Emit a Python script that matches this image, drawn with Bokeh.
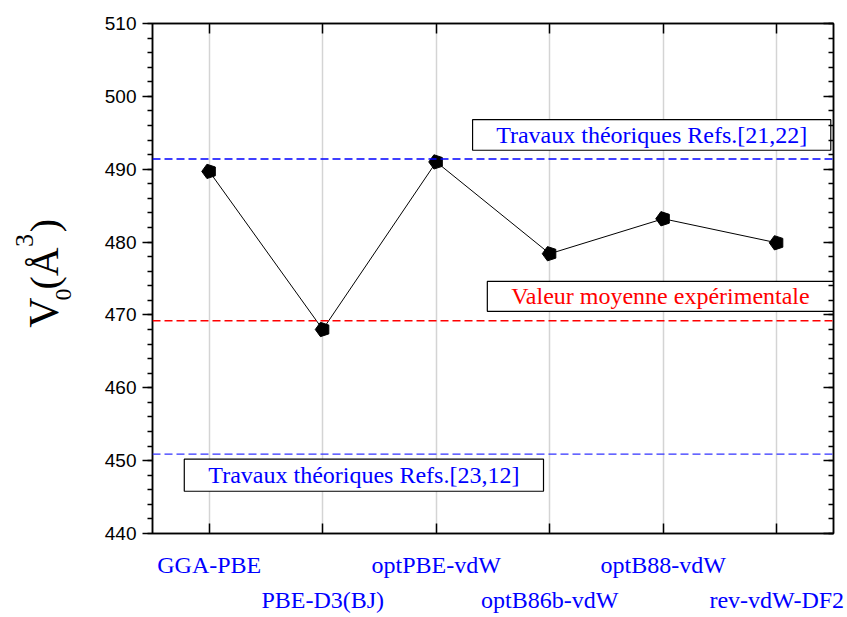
import math
from bokeh.plotting import figure
from bokeh.layouts import row
from bokeh.models import (Range1d, FixedTicker, SingleIntervalTicker, LinearAxis,
                          Span, ColumnDataSource, CustomJSTickFormatter)
from bokeh.core.properties import value
from bokeh.embed import file_html
from bokeh.resources import INLINE

# Equilibrium volume V0 (Å^3) obtained with each functional
methods = ["GGA-PBE", "PBE-D3(BJ)", "optPBE-vdW", "optB86b-vdW", "optB88-vdW", "rev-vdW-DF2"]
v0 = [489.7, 468.0, 491.0, 478.4, 483.2, 479.9]

# Reference levels drawn as dashed horizontal lines
theo_high = 491.4   # Refs.[21,22]
exp_mean = 469.2    # experimental mean
theo_low = 450.9    # Refs.[23,12]

y_min, y_max = 440, 510
y_step = 10
y_minor = 5

idx = list(range(len(methods)))
even = [i for i in idx if i % 2 == 0]
odd = [i for i in idx if i % 2 == 1]
SERIF = "Liberation Serif"
SANS = "Liberation Sans"

W, H = 847, 617
TW = 80                             # strip on the left holding the y title
BL, BR, BT, BB = 72, 14, 23, 84     # borders around the plotting frame

p = figure(width=W - TW, height=H, output_backend="svg", toolbar_location=None,
           x_range=Range1d(-0.5, len(methods) - 0.5), y_range=Range1d(y_min, y_max),
           min_border_left=BL, min_border_right=BR, min_border_top=BT,
           min_border_bottom=BB)
p.outline_line_color = "black"
p.outline_line_width = 1.5
p.background_fill_color = "white"
p.border_fill_color = "white"

# vertical grid at each functional, no horizontal grid
p.xgrid.ticker = FixedTicker(ticks=idx)
p.xgrid.grid_line_color = "#d4d4d4"
p.xgrid.grid_line_width = 1.5
p.ygrid.grid_line_color = None

# left axis: outward ticks with numbers
ya = p.yaxis[0]
ya.ticker = SingleIntervalTicker(interval=y_step, num_minor_ticks=y_minor)
ya.major_tick_out = 10
ya.major_tick_in = 0
ya.minor_tick_out = 5
ya.minor_tick_in = 0
ya.axis_line_width = 1.5
ya.major_tick_line_width = 1.5
ya.minor_tick_line_width = 1.5
ya.major_label_text_font = SANS
ya.major_label_text_font_size = "19px"
ya.major_label_text_color = "black"
ya.major_label_standoff = 6

# bottom axis: even functionals on the first row; odd ones get the same
# inward tick drawn as a long minor tick
xa = p.xaxis[0]
xa.ticker = FixedTicker(ticks=even, minor_ticks=odd)
xa.major_label_overrides = {i: methods[i] for i in even}
xa.major_tick_in = 10
xa.major_tick_out = 0
xa.minor_tick_in = 10
xa.minor_tick_out = 0
xa.axis_line_width = 1.5
xa.major_tick_line_width = 1.5
xa.minor_tick_line_width = 1.5
xa.major_label_text_font = SERIF
xa.major_label_text_font_size = "24px"
xa.major_label_text_color = "#0000ff"
xa.major_label_standoff = 18

# second row of labels (odd functionals), stacked beneath the first
xa2 = LinearAxis(ticker=FixedTicker(ticks=odd), major_label_overrides={i: methods[i] for i in odd},
                 axis_line_color=None, major_tick_line_color=None,
                 minor_tick_line_color=None, major_label_standoff=0,
                 major_label_text_font=SERIF, major_label_text_font_size="24px",
                 major_label_text_color="#0000ff")
p.add_layout(xa2, "below")

# top frame axis: inward ticks only
xt = LinearAxis(ticker=FixedTicker(ticks=[], minor_ticks=idx), minor_tick_in=10,
                minor_tick_out=0, major_tick_line_color=None, axis_line_width=1.5,
                minor_tick_line_width=1.5)
p.add_layout(xt, "above")

# right frame axis: inward ticks, numbers left blank
yr = LinearAxis(ticker=SingleIntervalTicker(interval=y_step, num_minor_ticks=y_minor),
                major_tick_in=10, major_tick_out=0, minor_tick_in=5, minor_tick_out=0,
                axis_line_width=1.5, major_tick_line_width=1.5, minor_tick_line_width=1.5,
                formatter=CustomJSTickFormatter(code="return ''"),
                major_label_standoff=0)
p.add_layout(yr, "right")

# dashed reference levels
for loc, col in [(theo_high, "#0000ff"), (exp_mean, "#ff0000"), (theo_low, "#3333ff")]:
    p.add_layout(Span(location=loc, dimension="width", line_color=col,
                      line_dash="8 4", line_width=1.4))

# data: line with pentagon markers
src = ColumnDataSource(dict(x=idx, y=v0))
p.line("x", "y", source=src, line_color="black", line_width=1)
p.ngon(x="x", y="y", source=src, radius=7.5, radius_units="screen", n=5,
       angle=math.pi / 2, fill_color="black", line_color="black")

# annotation boxes with captions
boxes = [
    dict(l=2.32, r=5.476, b=492.6, t=496.8, txt="Travaux théoriques Refs.[21,22]", c="#0000ff"),
    dict(l=2.45, r=5.5, b=470.5, t=474.6, txt="Valeur moyenne expérimentale", c="#ff0000"),
    dict(l=-0.22, r=2.945, b=445.8, t=450.2, txt="Travaux théoriques Refs.[23,12]", c="#0000ff"),
]
for bx in boxes:
    p.quad(left=[bx["l"]], right=[bx["r"]], bottom=[bx["b"]], top=[bx["t"]],
           fill_color="white", line_color="black", line_width=1.2)
    p.text(x=[(bx["l"] + bx["r"]) / 2], y=[(bx["b"] + bx["t"]) / 2], text=[bx["txt"]],
           text_align="center", text_baseline="middle", text_color=bx["c"],
           text_font=value(SERIF), text_font_size="24px")

# narrow strip on the left with the y title V0(Å3), built from pieces so the
# subscript and superscript sit where they belong. Its frame lines up with the
# main frame (same top/bottom borders) and its ranges are set so that data
# coordinates equal page pixels measured from the top-left corner.
t = figure(width=TW, height=H, output_backend="svg", toolbar_location=None,
           x_axis_type=None, y_axis_type=None,
           x_range=Range1d(0, TW), y_range=Range1d(H - (H - BB), H - BT),
           min_border_left=0, min_border_right=0, min_border_top=BT,
           min_border_bottom=BB, outline_line_color=None)
t.grid.visible = False
t.title.visible = False
t.background_fill_color = "white"
t.border_fill_color = "white"

title_parts = [
    ("V", 43, 312, "42px"),
    ("0", 63, 294, "24px"),
    ("(Å", 44, 268, "40px"),
    ("3", 24, 240, "26px"),
    (")", 44, 225, "40px"),
]
for txt, cx, cy, fs in title_parts:
    t.text(x=[cx], y=[H - cy], text=[txt], angle=math.pi / 2,
           text_align="center", text_baseline="middle", text_color="black",
           text_font=value(SERIF), text_font_size=fs)

layout = row(t, p, spacing=0)
open("out.html", "w").write(file_html(layout, INLINE))
